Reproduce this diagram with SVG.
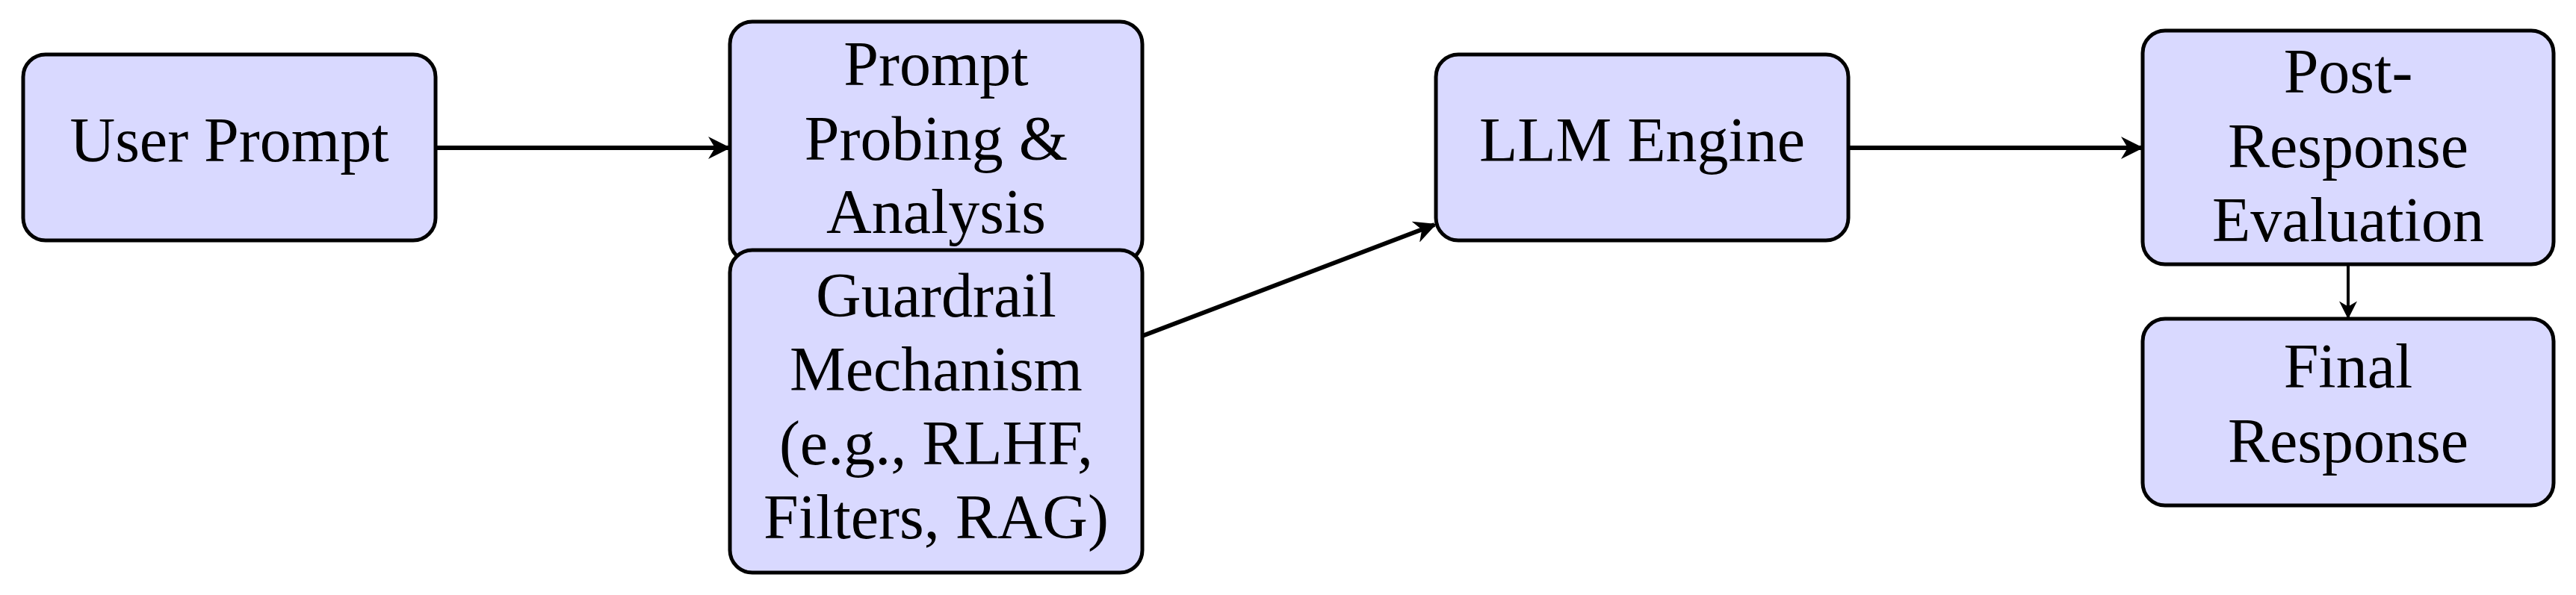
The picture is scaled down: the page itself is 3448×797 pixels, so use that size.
<svg xmlns="http://www.w3.org/2000/svg" width="3448" height="797" viewBox="0 0 3448 797">
<style>
.n{fill:#d9d9ff;stroke:#000;stroke-width:5}
text{font-family:"Liberation Serif","DejaVu Serif",serif;font-size:84px;text-anchor:middle;fill:#000}
.c{stroke:#000;stroke-width:6;fill:none;marker-end:url(#a)}
.t{stroke:#000;stroke-width:4;fill:none;marker-end:url(#b)}
</style>
<defs>
<marker id="a" viewBox="0 0 10 10" refX="9" refY="5" markerWidth="5" markerHeight="5" orient="auto" markerUnits="strokeWidth"><path d="M0,0 L10,5 L0,10 L3,5 z" fill="#000"/></marker>
<marker id="b" viewBox="0 0 10 10" refX="9" refY="5" markerWidth="6" markerHeight="6" orient="auto" markerUnits="strokeWidth"><path d="M0,0 L10,5 L0,10 L3,5 z" fill="#000"/></marker>
</defs>
<g id="connectors">
<line class="c" x1="583" y1="198" x2="975" y2="198"/>
<line class="c" x1="1529" y1="450" x2="1920" y2="301"/>
<line class="c" x1="2474" y1="198" x2="2866" y2="198"/>
<line class="t" x1="1254" y1="366" x2="1254" y2="338"/>
<line class="t" x1="3143" y1="354" x2="3143" y2="425"/>
</g>
<g id="user"><rect class="n" x="31" y="73" width="552" height="249" rx="30"/><text x="307" y="216">User Prompt</text></g>
<g id="probing"><rect class="n" x="977" y="29" width="552" height="322" rx="30"/><text x="1253" y="114">Prompt</text><text x="1253" y="214">Probing &amp;</text><text x="1253" y="312">Analysis</text></g>
<g id="guardrail"><rect class="n" x="977" y="335" width="552" height="432" rx="30"/><text x="1253" y="424">Guardrail</text><text x="1253" y="523">Mechanism</text><text x="1253" y="622">(e.g., RLHF,</text><text x="1253" y="721">Filters, RAG)</text></g>
<g id="llm"><rect class="n" x="1922" y="73" width="552" height="249" rx="30"/><text x="2198" y="216">LLM Engine</text></g>
<g id="post"><rect class="n" x="2868" y="41" width="550" height="313" rx="30"/><text x="3143" y="124">Post-</text><text x="3143" y="224">Response</text><text x="3143" y="323">Evaluation</text></g>
<g id="final"><rect class="n" x="2868" y="427" width="550" height="250" rx="30"/><text x="3143" y="519">Final</text><text x="3143" y="619">Response</text></g>
</svg>
